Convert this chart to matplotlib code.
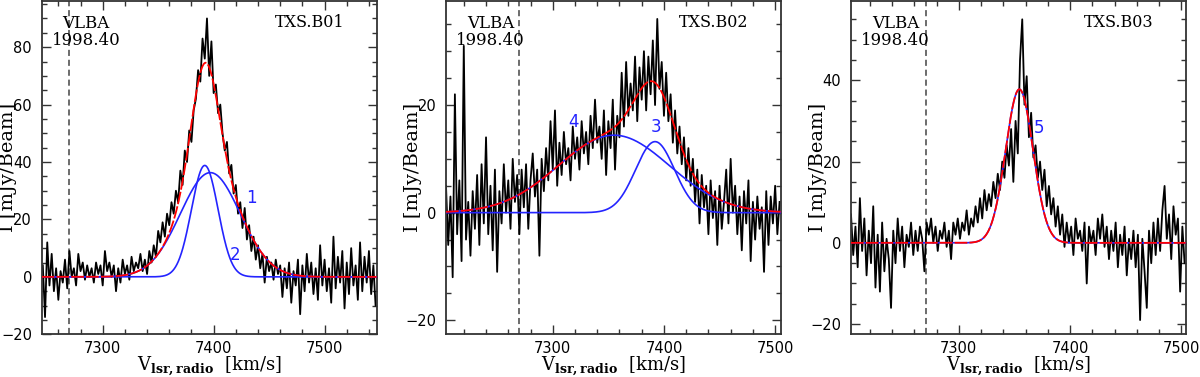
import numpy as np
import matplotlib
matplotlib.use('Agg')
import matplotlib.pyplot as plt
from matplotlib.ticker import MultipleLocator

plt.rcParams['mathtext.fontset'] = 'dejavuserif'

# spectra: first channel velocity, channel step (km/s), intensities (mJy/Beam)
b01_v0 = 7246
b02_v0 = 7204
b03_v0 = 7203
chan_step = 2

b01_flux = [4, -14, 12, -3, 8, -5, 3, -8, 2, -2, 6, -4, 9, 0, 3, -3, 8, 2, 5, -1,
            4, 0, 3, -2, 5, 1, 4, -3, 9, 2, 5, 0, 4, -5, 3, -2, 6, 1, 4, -1,
            7, 2, 5, 3, 8, 2, 6, 1, 9, 5, 11, 7, 16, 12, 19, 14, 22, 18, 26, 22,
            30, 26, 37, 32, 44, 40, 51, 47, 58, 62, 72, 68, 83, 76, 90, 70, 82, 64, 67, 57,
            60, 50, 44, 47, 36, 39, 29, 32, 22, 26, 17, 24, 13, 18, 9, 14, 6, 11, 3, 8,
            -2, 7, 2, 5, -1, 6, 1, 4, -7, 3, -4, 5, -9, 2, -3, 6, -13, 4, -5, 8,
            -2, 5, -6, 3, -8, 11, -3, 6, -5, 3, -9, 14, -4, 7, -2, 9, -11, 5, -6, 10,
            -3, 4, -8, 12, -5, 7, -2, 9, -6, 4, -10]

b02_flux = [5, -6, 3, -12, 22, -4, 6, -9, 31, -5, 2, -8, 4, -3, 7, -6, 9, -2, 14, -4,
            5, -7, 8, -11, 4, -2, 9, 0, 6, -3, 10, 2, 7, -4, 8, 1, 9, -3, 6, 11,
            3, 8, -8, 10, 4, 12, 6, 17, 8, 19, 5, 13, 7, 15, 9, 12, 6, 16, 10, 14,
            8, 17, 11, 15, 9, 18, 12, 21, 13, 16, 10, 19, 7, 17, 12, 21, 8, 18, 14, 26,
            16, 28, 18, 24, 19, 29, 17, 27, 21, 30, 19, 29, 22, 32, 20, 36, 23, 28, 18, 26,
            17, 22, 13, 19, 11, 16, 9, 14, 6, 12, 5, 10, 2, 8, -2, 7, 1, 5, -4, 6,
            -1, 4, -6, 5, -3, 2, 8, -2, 10, 0, 5, -4, 3, -7, 4, -2, 6, -9, 2, -5,
            3, -3, 1, -11, 4, -6, 3, -2, 5, -4, 2]

b03_flux = [7, -3, 4, -6, 11, -2, 6, -8, 3, -5, 9, -11, 2, -12, 5, -7, 1, -4, -16, 3,
            -5, 6, -2, 4, -6, 2, -1, 5, -3, 3, -2, 4, 1, -7, 5, 2, 6, 0, 4, -2,
            3, 1, 5, -1, 3, -4, 5, 2, 6, 1, 5, 3, 8, 2, 6, 4, 9, 5, 11, 6,
            13, 8, 12, 9, 15, 11, 17, 13, 20, 16, 24, 19, 28, 15, 30, 22, 45, 55, 34, 41,
            26, 32, 21, 24, 16, 20, 13, 18, 9, 14, 7, 11, 4, 9, 2, 7, -1, 5, 0, 4,
            -3, 6, 1, 3, -2, 5, -10, 4, 0, 3, -3, 6, 1, 7, -1, 4, -4, 3, -2, 5,
            -6, 2, -3, 4, -8, 1, -4, 3, -6, 2, -19, 1, -7, -16, 3, -5, 5, -3, 6, -2,
            8, 14, 1, 7, -4, 9, 2, 6, -12, 4, -5]

# gaussian fit components: amplitude, centre, sigma
b01_amp = [36.3, 38.8]
b01_cen = [7397, 7392]
b01_sig = [27.0, 12.0]
b02_amp = [13.2, 14.4]
b02_cen = [7392, 7355]
b02_sig = [17.5, 50.0]
b03_amp = [37.8]
b03_cen = [7354.4]
b03_sig = [12.3]

# component labels
b01_lab = [('1', 7434, 27.4), ('2', 7419, 7.5)]
b02_lab = [('3', 7393, 16.0), ('4', 7319, 16.8)]
b03_lab = [('5', 7372, 28.3)]

names = ['TXS.B01', 'TXS.B02', 'TXS.B03']
xlims = [(7245, 7547), (7204, 7505), (7203, 7504)]
ylims = [(-20, 96.2), (-22.6, 39.4), (-22.5, 59.6)]
vlba_epoch = 7270

serif = 'DejaVu Serif'
blue = '#2424ff'

fig = plt.figure(figsize=(12, 3.77), dpi=100)
lefts = [41.7 / 1200, 446 / 1200, 851 / 1200]
widths = [335 / 1200, 334.7 / 1200, 334.7 / 1200]

panels = [(b01_v0, b01_flux, b01_amp, b01_cen, b01_sig, b01_lab),
          (b02_v0, b02_flux, b02_amp, b02_cen, b02_sig, b02_lab),
          (b03_v0, b03_flux, b03_amp, b03_cen, b03_sig, b03_lab)]

for k, (v0, flux, amp, cen, sig, labs) in enumerate(panels):
    ax = fig.add_axes([lefts[k], 0.1133, widths[k], 0.885])
    vel = v0 + chan_step * np.arange(len(flux))
    ax.plot(vel, flux, color='black', lw=1.3, zorder=2)

    vfine = np.linspace(xlims[k][0], xlims[k][1], 1500)
    total = np.zeros_like(vfine)
    for a, c, s in zip(amp, cen, sig):
        g = a * np.exp(-(vfine - c) ** 2 / (2 * s ** 2))
        total += g
        ax.plot(vfine, g, color=blue, lw=1.2, zorder=3)
    ax.plot(vfine, total, color='red', lw=1.3, dashes=(7, 1.2), zorder=4)

    for t, x, y in labs:
        ax.text(x, y, t, color=blue, fontsize=12, ha='center', va='center', zorder=5)

    ax.axvline(vlba_epoch, color='#444444', lw=1.1, dashes=(4, 2.5), zorder=1)

    ax.text(0.133, 0.932, 'VLBA', transform=ax.transAxes, ha='center', va='center',
            fontsize=12, family=serif)
    ax.text(0.133, 0.882, '1998.40', transform=ax.transAxes, ha='center', va='center',
            fontsize=12, family=serif)
    ax.text(0.80, 0.935, names[k], transform=ax.transAxes, ha='center', va='center',
            fontsize=11.5, family=serif)

    ax.set_xlim(xlims[k])
    ax.set_ylim(ylims[k])
    ax.xaxis.set_major_locator(MultipleLocator(100))
    ax.xaxis.set_minor_locator(MultipleLocator(20))
    ax.yaxis.set_major_locator(MultipleLocator(20))
    ax.yaxis.set_minor_locator(MultipleLocator(5))
    ax.tick_params(which='both', direction='in', top=True, right=True,
                   color='#333333', width=1.0, labelsize=10.5)
    ax.tick_params(axis='x', pad=5)
    ax.tick_params(axis='y', pad=7)
    ax.tick_params(which='major', length=6.5)
    ax.tick_params(which='minor', length=3.6)
    for sp in ax.spines.values():
        sp.set_linewidth(1.3)
        sp.set_color('#333333')

    ax.set_ylabel('I [mJy/Beam]', family=serif, fontsize=14)
    ax.yaxis.set_label_coords(-0.073, 0.5)
    ax.set_xlabel(r'V$_{\mathbf{lsr,radio}}$  [km/s]', family=serif, fontsize=13,
                  labelpad=-1)

fig.savefig('out.png', dpi=100)
